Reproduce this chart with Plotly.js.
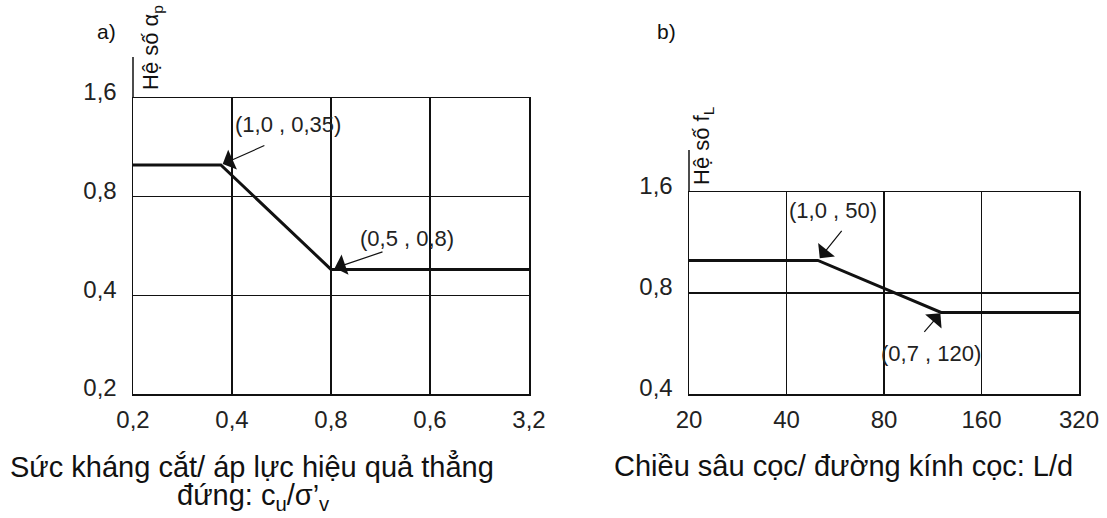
<!DOCTYPE html>
<html>
<head>
<meta charset="utf-8">
<script src="https://cdn.plot.ly/plotly-3.0.1.min.js"></script>
<style>html,body{margin:0;padding:0;background:#fff;}#chart{width:1107px;height:518px;}</style>
</head>
<body>
<div id="chart"></div>
<script>
// ---- Panel a data ----
const aX = [0.2, 0.37, 0.8, 3.2];
const aY = [1.0, 1.0, 0.48, 0.48];
const aXTicks = [0.2, 0.4, 0.8, 1.6, 3.2];
const aXTickText = ['0,2', '0,4', '0,8', '0,6', '3,2'];
const aYTicks = [0.2, 0.4, 0.8, 1.6];
const aYTickText = ['0,2', '0,4', '0,8', '1,6'];
const aPointLabels = ['(1,0 , 0,35)', '(0,5 , 0,8)'];
const aTitleLines = ['Sức kháng cắt/ áp lực hiệu quả thẳng', 'đứng: c<sub>u</sub>/σ’<sub>v</sub>'];
const aYTitle = 'Hệ số α<sub>p</sub>';

// ---- Panel b data ----
const bX = [20, 50, 120, 320];
const bY = [1.0, 1.0, 0.7, 0.7];
const bXTicks = [20, 40, 80, 160, 320];
const bXTickText = ['20', '40', '80', '160', '320'];
const bYTicks = [0.4, 0.8, 1.6];
const bYTickText = ['0,4', '0,8', '1,6'];
const bPointLabels = ['(1,0 , 50)', '(0,7 , 120)'];
const bTitle = 'Chiều sâu cọc/ đường kính cọc: L/d';
const bYTitle = 'Hệ số f<sub>L</sub>';

const FONT = 'Liberation Sans, Arial, Helvetica, sans-serif';
const INK = '#111';
const L = Math.log10;

const traces = [
  {x: aX, y: aY, xaxis: 'x', yaxis: 'y', mode: 'lines', line: {color: INK, width: 3}, hoverinfo: 'skip'},
  {x: bX, y: bY, xaxis: 'x2', yaxis: 'y2', mode: 'lines', line: {color: INK, width: 3}, hoverinfo: 'skip'}
];

function xAxis(ticks, text, domain, anchor) {
  return {
    type: 'log', range: [L(ticks[0]), L(ticks[ticks.length - 1])], domain: domain, anchor: anchor,
    tickmode: 'array', tickvals: ticks, ticktext: text,
    showgrid: true, gridcolor: INK, gridwidth: 1.3, zeroline: false,
    showline: true, mirror: true, linecolor: INK, linewidth: 1.5,
    ticks: 'outside', ticklen: 4, tickcolor: 'rgba(0,0,0,0)',
    tickfont: {family: FONT, size: 24, color: '#222'}, automargin: false, fixedrange: true
  };
}
function yAxis(ticks, text, domain, anchor) {
  return {
    type: 'log', range: [L(ticks[0]), L(ticks[ticks.length - 1])], domain: domain, anchor: anchor,
    tickmode: 'array', tickvals: ticks, ticktext: text,
    showgrid: true, gridcolor: INK, gridwidth: 1.3, zeroline: false,
    showline: true, mirror: true, linecolor: INK, linewidth: 1.5,
    ticks: 'outside', ticklen: 10, tickcolor: 'rgba(0,0,0,0)', ticklabelshift: -6,
    tickfont: {family: FONT, size: 24, color: '#222'}, automargin: false, fixedrange: true
  };
}

function arrow(xref, yref, px, py, ax, ay, standoff) {
  return {xref: xref, yref: yref, x: L(px), y: L(py), text: '', showarrow: true,
    ax: ax, ay: ay, arrowhead: 1, arrowsize: 3, arrowwidth: 1.2, arrowcolor: INK, standoff: standoff};
}
function ptLabel(xref, yref, px, py, text, xs, ys) {
  return {xref: xref, yref: yref, x: L(px), y: L(py), text: text, showarrow: false,
    xshift: xs, yshift: ys, font: {family: FONT, size: 22, color: '#222'}};
}
function paperText(x, y, text, size, angle) {
  return {xref: 'paper', yref: 'paper', x: x, y: y, text: text, showarrow: false,
    xanchor: 'center', yanchor: 'middle', textangle: angle || 0,
    font: {family: FONT, size: size, color: '#111'}};
}

const W = 1107, H = 518;
const px = v => v / W, py = v => 1 - v / H;

const layout = {
  width: W, height: H, margin: {l: 0, r: 0, t: 0, b: 0},
  paper_bgcolor: '#fff', plot_bgcolor: '#fff', showlegend: false,
  xaxis: xAxis(aXTicks, aXTickText, [px(133), px(529)], 'y'),
  yaxis: yAxis(aYTicks, aYTickText, [py(394), py(98)], 'x'),
  xaxis2: xAxis(bXTicks, bXTickText, [px(689), px(1079)], 'y2'),
  yaxis2: yAxis(bYTicks, bYTickText, [py(394), py(192)], 'x2'),
  shapes: [
    {type: 'line', xref: 'x domain', yref: 'y domain', x0: 0, x1: 0, y0: 1, y1: 1 + 41 / 296, line: {color: INK, width: 1.5}},
    {type: 'line', xref: 'x2 domain', yref: 'y2 domain', x0: 0, x1: 0, y0: 1, y1: 1 + 42 / 202, line: {color: INK, width: 1.5}}
  ],
  annotations: [
    arrow('x', 'y', aX[1], aY[1], 45, -20, 2),
    arrow('x', 'y', aX[2], aY[2], 53, -18, 4),
    ptLabel('x', 'y', aX[1], aY[1], aPointLabels[0], 67, 40),
    ptLabel('x', 'y', aX[2], aY[2], aPointLabels[1], 76, 31),
    arrow('x2', 'y2', bX[1], bY[1], 25, -31, 3),
    arrow('x2', 'y2', bX[2], bY[2], -18, 21, 1),
    ptLabel('x2', 'y2', bX[1], bY[1], bPointLabels[0], 15, 50),
    ptLabel('x2', 'y2', bX[2], bY[2], bPointLabels[1], -10, -41),
    paperText(px(252), py(466), aTitleLines[0], 29),
    paperText(px(253), py(497), aTitleLines[1], 29),
    paperText(px(843), py(466), bTitle, 29),
    paperText(px(106), py(32), 'a)', 21),
    paperText(px(666), py(32), 'b)', 21),
    paperText(px(152), py(48), aYTitle, 22, -90),
    paperText(px(703), py(146), bYTitle, 22, -90)
  ]
};

Plotly.newPlot('chart', traces, layout, {displayModeBar: false, staticPlot: true});
</script>
</body>
</html>
